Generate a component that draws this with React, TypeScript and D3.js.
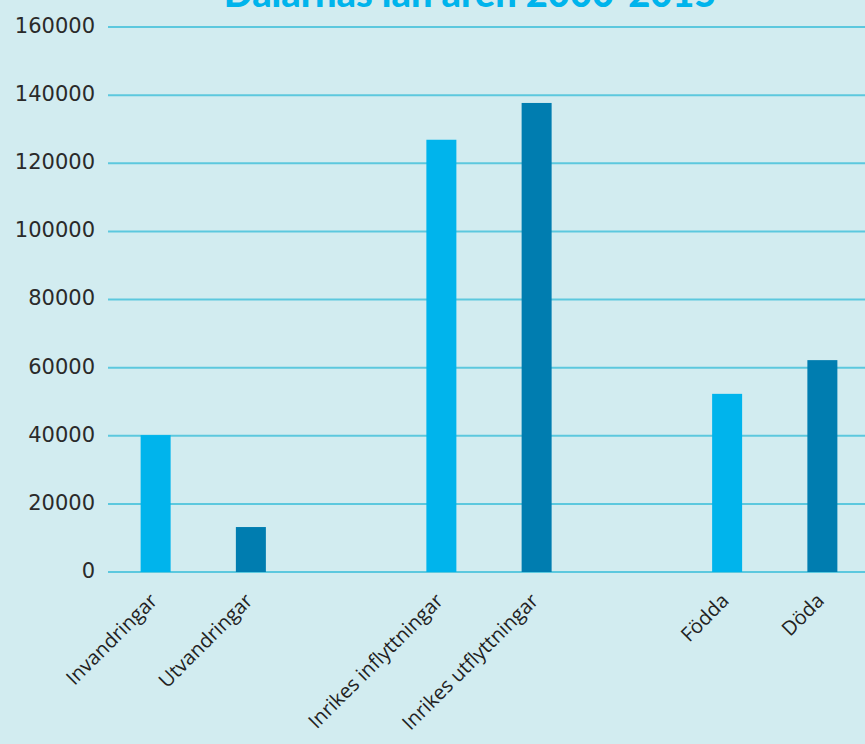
import React from "react";
import * as d3 from "d3";

const categories = ["Invandringar", "Utvandringar", "", "Inrikes inflyttningar", "Inrikes utflyttningar", " ", "Födda", "Döda"];
const values: (number | null)[] = [40200, 13200, null, 126900, 137700, null, 52300, 62200];
const barColors = ["#00b4ec", "#007db0", "#00b4ec", "#00b4ec", "#007db0", "#00b4ec", "#00b4ec", "#007db0"];
const yTicks = [0, 20000, 40000, 60000, 80000, 100000, 120000, 140000, 160000];
const title = "Dalarnas län åren 2000-2015";

const W = 865;
const H = 744;

export default function App() {
  const x = d3.scaleBand<string>().domain(categories).range([108, 870]).paddingInner(0).paddingOuter(0);
  const y = d3.scaleLinear().domain([0, 160000]).range([572, 27]);
  const bw = 30;
  return (
    <svg width={W} height={H} style={{ position: "absolute", left: 0, top: 0, display: "block" }}>
      <rect x={0} y={0} width={W} height={H} fill="#d2ecf0" />
      <text x={470} y={7} textAnchor="middle" fontFamily="'Lato', 'DejaVu Sans', sans-serif" fontWeight={900} fontSize={38} fill="#00b4ec">
        {title}
      </text>
      {yTicks.map((t) => (
        <g key={t}>
          <line x1={108} x2={W} y1={y(t)} y2={y(t)} stroke="#5cc8de" strokeWidth={2} />
          <text x={95} y={y(t)} dy="0.28em" textAnchor="end" fontFamily="'DejaVu Sans', sans-serif" fontSize={21} fill="#2a2a2a">
            {t}
          </text>
        </g>
      ))}
      {categories.map((c, i) => {
        const v = values[i];
        const cx = (x(c) as number) + x.bandwidth() / 2;
        return (
          <g key={i}>
            {v !== null && (
              <rect x={cx - bw / 2} y={y(v)} width={bw} height={y(0) - y(v)} fill={barColors[i]} />
            )}
            {c.trim() !== "" && (
              <text
                transform={`translate(${cx + 3},${602}) rotate(-45)`}
                textAnchor="end"
                fontFamily="'Open Sans', sans-serif"
                fontSize={20}
                fill="#222"
              >
                {c}
              </text>
            )}
          </g>
        );
      })}
    </svg>
  );
}
